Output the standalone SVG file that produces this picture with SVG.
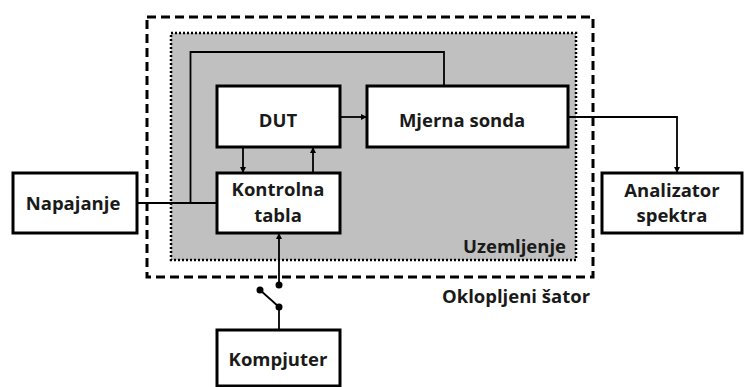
<svg xmlns="http://www.w3.org/2000/svg" width="749" height="387" viewBox="0 0 749 387">
<style>
.box{fill:#fff;stroke:#000;stroke-width:3}
.ln{fill:none;stroke:#000;stroke-width:1.8}
text{font-family:"Open Sans","Liberation Sans",sans-serif;font-weight:bold;font-size:18.5px;fill:#1a1a1a;text-anchor:middle}
</style>
<defs>
<marker id="ah" viewBox="0 0 10 10" refX="10" refY="5" markerWidth="6" markerHeight="6" orient="auto" markerUnits="userSpaceOnUse">
<path d="M0,0 L10,5 L0,10 z" fill="#000"/>
</marker>
</defs>
<rect width="749" height="387" fill="#fff"/>
<g id="oklopljeni-sator">
<rect x="147" y="17" width="446" height="260" fill="none" stroke="#000" stroke-width="3" stroke-dasharray="9 5"/>
<text x="516" y="303">Oklopljeni šator</text>
</g>
<g id="uzemljenje">
<rect x="171" y="33" width="405" height="227" fill="#c0c0c0" stroke="#000" stroke-width="2.5" stroke-dasharray="2 2"/>
<text x="566" y="253" style="text-anchor:end">Uzemljenje</text>
</g>
<g id="connectors">
<polyline class="ln" points="190.5,203 190.5,52 444,52 444,86"/>
<line class="ln" x1="137" y1="203" x2="217" y2="203"/>
<line class="ln" x1="340" y1="117" x2="367" y2="117" marker-end="url(#ah)"/>
<line class="ln" x1="243" y1="147" x2="243" y2="173" marker-end="url(#ah)"/>
<line class="ln" x1="313" y1="173" x2="313" y2="147" marker-end="url(#ah)"/>
<polyline class="ln" points="568,117 677,117 677,173" marker-end="url(#ah)"/>
<line class="ln" x1="279" y1="285" x2="279" y2="233" marker-end="url(#ah)"/>
<line class="ln" x1="260" y1="290" x2="279" y2="307"/>
<line class="ln" x1="279" y1="307" x2="279" y2="330"/>
<circle cx="279" cy="285" r="3.5" fill="#000"/>
<circle cx="260" cy="290" r="3.5" fill="#000"/>
<circle cx="279" cy="307" r="3.5" fill="#000"/>
</g>
<g id="dut">
<rect class="box" x="217" y="86" width="123" height="61"/>
<text x="278" y="127">DUT</text>
</g>
<g id="mjerna-sonda">
<rect class="box" x="367" y="86" width="201" height="61"/>
<text x="462" y="127">Mjerna sonda</text>
</g>
<g id="kontrolna-tabla">
<rect class="box" x="217" y="173" width="123" height="60"/>
<text x="278" y="196">Kontrolna</text>
<text x="278" y="222">tabla</text>
</g>
<g id="napajanje">
<rect class="box" x="13" y="173" width="124" height="60"/>
<text x="73" y="210">Napajanje</text>
</g>
<g id="analizator-spektra">
<rect class="box" x="602" y="173" width="140" height="60"/>
<text x="672" y="197">Analizator</text>
<text x="672" y="222">spektra</text>
</g>
<g id="kompjuter">
<rect class="box" x="217" y="330" width="123" height="56"/>
<text x="278" y="366">Kompjuter</text>
</g>
</svg>
